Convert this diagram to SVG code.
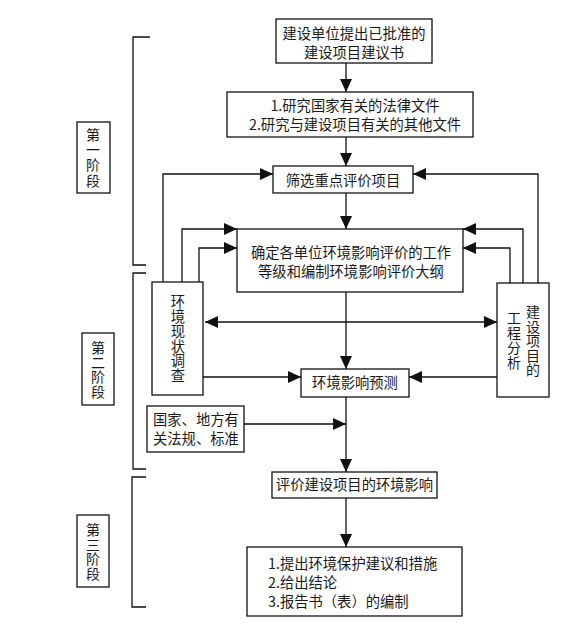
<svg xmlns="http://www.w3.org/2000/svg" width="572" height="624" viewBox="0 0 572 624">
<defs>
<marker id="ah" markerUnits="userSpaceOnUse" markerWidth="13" markerHeight="12" refX="13" refY="6" orient="auto-start-reverse" viewBox="0 0 13 12">
<path d="M0,0 L13,6 L0,12 z" fill="#111"/>
</marker>
</defs>
<style>
rect{fill:#fff;stroke:#111;stroke-width:1.3}
.ln{fill:none;stroke:#111;stroke-width:1.3}
.ar{marker-end:url(#ah)}
text{font-family:"Noto Sans CJK SC","Noto Sans",sans-serif;font-size:14.3px;fill:#1a1a1a}
.m{text-anchor:middle}
.v{writing-mode:vertical-rl;text-anchor:middle;font-size:14px}
</style>
<rect x="0" y="0" width="572" height="624" style="fill:#fff;stroke:none"/>
<g id="brackets">
<path class="ln" d="M150,37 H133 V265 H146"/>
<path class="ln" d="M146,273 H133 V469 H146"/>
<path class="ln" d="M146,477 H132 V607 H146"/>
</g>
<g id="stage1"><rect x="77" y="122" width="33" height="71"/>
<text class="v" x="93" y="158" style="letter-spacing:1.3px">第一阶段</text></g>
<g id="stage2"><rect x="82" y="333" width="32" height="72"/>
<text class="v" x="98" y="370" style="letter-spacing:0.7px">第二阶段</text></g>
<g id="stage3"><rect x="77" y="515" width="32" height="72"/>
<text class="v" x="93" y="552" style="letter-spacing:0.7px">第三阶段</text></g>
<g id="connectors">
<path class="ln ar" d="M346,63 V92"/>
<path class="ln ar" d="M346,137 V166"/>
<path class="ln ar" d="M346,193 V229"/>
<path class="ln ar" d="M163,282 V174 H273"/>
<path class="ln ar" d="M538,283 V174 H413"/>
<path class="ln ar" d="M182,282 V229 H237"/>
<path class="ln ar" d="M199,282 V248 H237"/>
<path class="ln ar" d="M523,283 V229 H463"/>
<path class="ln ar" d="M510,283 V248 H463"/>
<path class="ln ar" d="M205,322 H497" style="marker-start:url(#ah)"/>
<path class="ln ar" d="M346,292 V369"/>
<path class="ln ar" d="M203,377 H301"/>
<path class="ln ar" d="M497,377 H409"/>
<path class="ln ar" d="M244,424 H346"/>
<path class="ln ar" d="M346,397 V472"/>
<path class="ln ar" d="M346,498 V547"/>
</g>
<g id="n1"><rect x="276" y="19" width="156" height="44"/>
<text class="m"><tspan x="354" y="39.4">建设单位提出已批准的</tspan><tspan x="354" y="58.4">建设项目建议书</tspan></text></g>
<g id="n2"><rect x="227" y="92" width="246" height="45"/>
<text class="m"><tspan x="355" y="110.5">1.研究国家有关的法律文件</tspan><tspan x="355" y="129.5">2.研究与建设项目有关的其他文件</tspan></text></g>
<g id="n3"><rect x="273" y="166" width="140" height="27"/>
<text class="m" x="343" y="186.4">筛选重点评价项目</text></g>
<g id="n4"><rect x="237" y="229" width="226" height="63"/>
<text class="m"><tspan x="351" y="258.4">确定各单位环境影响评价的工作</tspan><tspan x="351" y="277.4">等级和编制环境影响评价大纲</tspan></text></g>
<g id="n5"><rect x="152" y="282" width="51" height="113"/>
<text class="v" x="178" y="339" style="font-size:14.3px;letter-spacing:0.5px">环境现状调查</text></g>
<g id="n6"><rect x="497" y="283" width="52" height="114"/>
<text class="v" x="533" y="341" style="letter-spacing:0.5px">建设项目的</text>
<text class="v" x="514" y="340.5" style="letter-spacing:1px">工程分析</text></g>
<g id="n7"><rect x="301" y="369" width="108" height="28"/>
<text class="m" x="355" y="388.4">环境影响预测</text></g>
<g id="n8"><rect x="147" y="406" width="97" height="46"/>
<text><tspan x="153" y="425">国家、地方有</tspan><tspan x="153" y="444">关法规、标准</tspan></text></g>
<g id="n9"><rect x="272" y="472" width="165" height="26"/>
<text class="m" x="354.5" y="490.4">评价建设项目的环境影响</text></g>
<g id="n10"><rect x="247" y="547" width="215" height="69"/>
<text><tspan x="268" y="569.4">1.提出环境保护建议和措施</tspan><tspan x="268" y="588.4">2.给出结论</tspan><tspan x="268" y="607.4">3.报告书（表）的编制</tspan></text></g>
</svg>
